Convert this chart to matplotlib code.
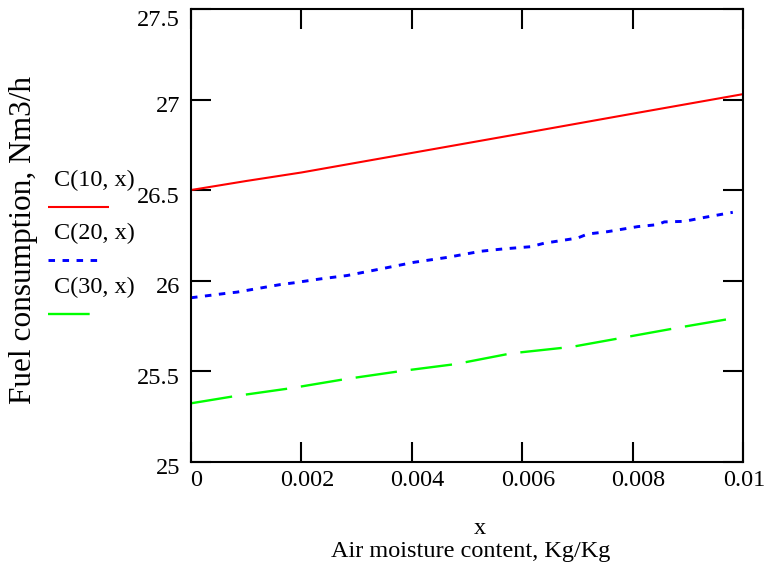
import matplotlib.pyplot as plt
import matplotlib.transforms as mtransforms
from matplotlib.lines import Line2D

plt.rcParams["font.family"] = ["Liberation Serif", "DejaVu Serif"]
plt.rcParams["lines.scale_dashes"] = False

# C(10, x), C(20, x), C(30, x) sampled from the model
x_10 = [0.0, 0.001, 0.002, 0.004, 0.006, 0.008, 0.01]
c_10 = [26.5, 26.55, 26.597, 26.705, 26.813, 26.922, 27.03]

x_20 = [0.0, 0.00065, 0.00083, 0.00162, 0.00185, 0.00234, 0.00283, 0.00343,
        0.00404, 0.00464, 0.00525, 0.00566, 0.00615, 0.00639, 0.0070, 0.00718,
        0.00754, 0.00809, 0.00845, 0.00857, 0.00893, 0.0093, 0.00981]
c_20 = [25.905, 25.930, 25.936, 25.978, 25.987, 26.009, 26.028, 26.064,
        26.101, 26.128, 26.162, 26.175, 26.187, 26.206, 26.235, 26.257,
        26.270, 26.298, 26.309, 26.324, 26.327, 26.349, 26.377]

x_30 = [0.0, 0.0008, 0.0018, 0.0028, 0.0038, 0.0048, 0.0058, 0.0069, 0.0079,
        0.0089, 0.0099]
c_30 = [25.322, 25.362, 25.405, 25.456, 25.5, 25.539, 25.598, 25.634, 25.689,
        25.744, 25.796]

xticks = [0, 0.002, 0.004, 0.006, 0.008, 0.01]
xtick_labels = ["0", "0.002", "0.004", "0.006", "0.008", "0.01"]
yticks = [25, 25.5, 26, 26.5, 27, 27.5]
ytick_labels = ["25", "25.5", "26", "26.5", "27", "27.5"]

W, H = 769, 564
fig = plt.figure(figsize=(W / 100, H / 100), dpi=100)


def fx(px):
    return px / W


def fy(py):
    return 1 - py / H


ax = fig.add_axes([fx(191), fy(461.6), fx(743.3) - fx(191), fy(9) - fy(461.6)])

style_10 = dict(color="#ff0000", lw=1.5, solid_capstyle="butt")
style_20 = dict(color="#0000ff", lw=2.1, linestyle=(0, (4.7, 5.4)),
                dash_capstyle="butt")
style_30 = dict(color="#00ff00", lw=1.7, linestyle=(0, (30, 10)),
                dash_capstyle="butt")

ax.plot(x_10, c_10, **style_10)
ax.plot(x_20, c_20, **style_20)
ax.plot(x_30, c_30, **style_30)

ax.set_xlim(0, 0.01)
ax.set_ylim(25, 27.5)
ax.set_xticks(xticks)
ax.set_xticklabels(xtick_labels)
ax.set_yticks(yticks)
ax.set_yticklabels(ytick_labels)

for sp in ax.spines.values():
    sp.set_linewidth(1.5)
ax.tick_params(direction="in", length=14.4, width=1.5, top=True, right=True,
               labelsize=17.5, pad=6)
ax.tick_params(axis="y", pad=8)

# nudge tick labels the way the original layout has them
for i, lab in enumerate(ax.get_xticklabels()):
    dx = 4 if i < len(xticks) - 1 else 0.5
    lab.set_transform(lab.get_transform() +
                      mtransforms.ScaledTranslation(dx / 72, 0, fig.dpi_scale_trans))
for i, lab in enumerate(ax.get_yticklabels()):
    dy = -3.5 if i < len(yticks) - 1 else -6.5
    lab.set_transform(lab.get_transform() +
                      mtransforms.ScaledTranslation(0, dy / 72, fig.dpi_scale_trans))

# axis titles
fig.text(fx(24), fy(240), "Fuel consumption, Nm3/h", rotation=90,
         fontsize=22.5, ha="center", va="center")
fig.text(fx(480), fy(528), "x", fontsize=17.5, ha="center", va="center")
fig.text(fx(471), fy(551), "Air moisture content, Kg/Kg", fontsize=17.5,
         ha="center", va="center")

# legend on the left side
legend = [("C(10, x)", 180, 206.7, 109, style_10),
          ("C(20, x)", 233, 260, 97, style_20),
          ("C(30, x)", 287, 314, 90, style_30)]
for label, ty, ly, x_end, st in legend:
    fig.text(fx(54), fy(ty), label, fontsize=17.5, ha="left", va="center")
    fig.add_artist(Line2D([fx(48), fx(x_end)], [fy(ly), fy(ly)],
                          transform=fig.transFigure, **st))

fig.savefig("out.png", dpi=100)
